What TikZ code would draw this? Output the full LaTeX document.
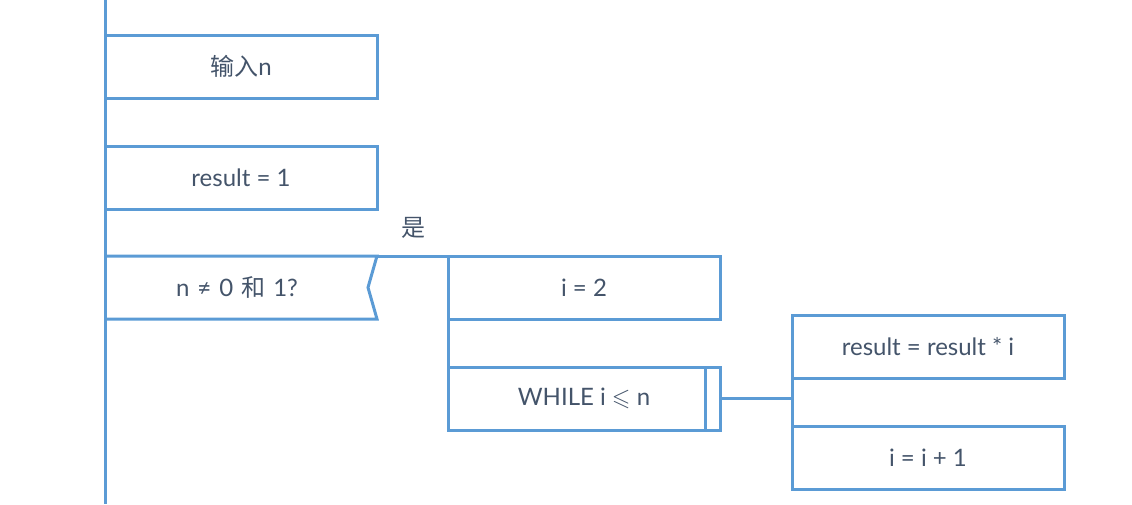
\documentclass[tikz,border=0pt]{standalone}
\usepackage{amssymb}
\usepackage{fontspec}
\setmainfont{Lato}
\newfontfamily\cjk{Noto Sans CJK SC}
\usetikzlibrary{positioning,calc}
\definecolor{nsblue}{HTML}{5B9BD5}
\definecolor{nstext}{HTML}{44546A}

\begin{document}
\begin{tikzpicture}[x=1pt,y=-1pt,
        nsbox/.style={draw=nsblue, line width=3pt, minimum width=272pt, minimum height=63pt, inner sep=0pt, outer sep=0pt, text=nstext, font=\fontsize{24}{28}\selectfont},
        nsline/.style={draw=nsblue, line width=3pt}]
        \useasboundingbox (0,0) rectangle (1132,504);
        % main line
        \coordinate (top) at (105,0);
        \coordinate (bottom) at (105,504);
        \draw[nsline] (top) -- (bottom);
        \node[nsbox, anchor=north west] (input) at (105,35) {{\cjk 输入}n};
        \node[nsbox, below=48pt of input] (result) {result = 1};
        % condition
        \node[nsbox, draw=none, below=47pt of result, xshift=-4pt, text width=272pt, align=center] (cond) {n ≠ 0 {\cjk 和} 1?};
        \draw[nsline] ([xshift=4pt]cond.north west) -- ([xshift=4pt]cond.north east) -- ([xshift=-5pt]cond.east) -- ([xshift=4pt]cond.south east) -- ([xshift=4pt]cond.south west);
        \node[nsbox, right=71pt of cond.north east, xshift=4pt, anchor=north west] (init) {i = 2};
        \draw[nsline] ([xshift=4pt]cond.north east) -- (init.north west);
        \node[text=nstext, font=\cjk\fontsize{24}{28}\selectfont] (yes) at ($(init.north west)+(-35,-28)$) {是};
        % loop
        \node[nsbox, below=48pt of init] (loop) {WHILE i $\leqslant$ n};
        \draw[nsline] ([xshift=-15pt]loop.north east) -- ([xshift=-15pt]loop.south east);
        \draw[nsline] (init.south west) -- (loop.north west);
        \node[nsbox, anchor=north west] (body) at ([xshift=72pt,yshift=52pt]loop.north east) {result = result * i};
        \node[nsbox, below=48pt of body] (inc) {i = i + 1};
        \draw[nsline] (body.south west) -- (inc.north west);
        \draw[nsline] (loop.east) -- (loop.east -| body.west);
    \end{tikzpicture}
\end{document}
